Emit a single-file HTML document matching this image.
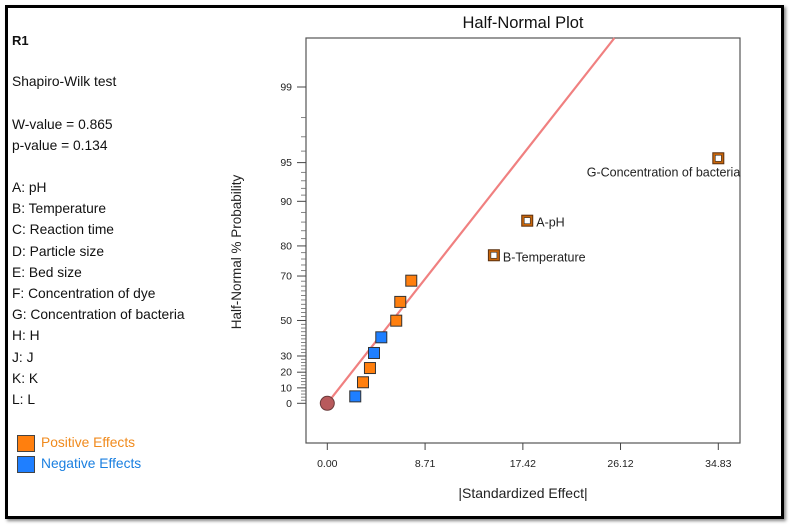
<!DOCTYPE html>
<html><head><meta charset="utf-8"><style>
body{margin:0;background:#fff;width:790px;height:526px;overflow:hidden;font-family:"Liberation Sans",sans-serif}
#frame{position:absolute;left:5px;top:5px;width:773px;height:508px;border:3px solid #000;box-shadow:2px 2px 3px #888}
.t{position:absolute;left:12px;font-size:13.8px;color:#111;white-space:nowrap}
</style></head><body>
<div id="frame"></div>
<div class="t" style="top:33px;font-weight:bold;font-size:13px">R1</div>
<div class="t" style="top:74px">Shapiro-Wilk test</div>
<div class="t" style="top:117px">W-value = 0.865</div>
<div class="t" style="top:138px">p-value = 0.134</div>
<div id="factors"></div>
<div style="position:absolute;left:17px;top:435px;width:16px;height:15px;background:#ff7f0e;border:1px solid #444"></div>
<div class="t" style="left:41px;top:435px;color:#f08a1c">Positive Effects</div>
<div style="position:absolute;left:17px;top:456px;width:16px;height:15px;background:#1f7fff;border:1px solid #444"></div>
<div class="t" style="left:41px;top:456px;color:#1a7fe0">Negative Effects</div>
<svg id="chart" width="790" height="526" style="position:absolute;left:0;top:0"></svg>
<script>
const factorLabels=["A: pH","B: Temperature","C: Reaction time","D: Particle size","E: Bed size","F: Concentration of dye","G: Concentration of bacteria","H: H","J: J","K: K","L: L"];
const effects=[2.49,3.18,3.80,4.16,4.81,6.14,6.50,7.48,14.84,17.81,34.83];
const probs=[4.5,13.6,22.6,31.8,40.9,49.9,59.1,68.2,77.2,86.3,95.4];
const signs=["neg","pos","pos","neg","neg","pos","pos","pos","pos","pos","pos"];
const labels=["","","","","","","","","B-Temperature","A-pH","G-Concentration of bacteria"];
const xTicks=[0,8.71,17.42,26.12,34.83];
const yTicks=[0,10,20,30,50,70,80,90,95,99];
const lineSlope=0.1163;

const fl=document.getElementById('factors');
factorLabels.forEach((s,i)=>{const d=document.createElement('div');d.className='t';d.style.top=(180+i*21.2)+'px';d.textContent=s;

fl.appendChild(d);});

const svg=document.getElementById('chart');const NS='http://www.w3.org/2000/svg';
function el(t,a,p){const e=document.createElementNS(NS,t);for(const k in a)e.setAttribute(k,a[k]);(p||svg).appendChild(e);return e;}
function invN(p){
const a=[-39.6968302866538,220.946098424521,-275.928510446969,138.357751867269,-30.6647980661472,2.50662827745924],b=[-54.4760987982241,161.585836858041,-155.698979859887,66.8013118877197,-13.2806815528857],c=[-0.00778489400243029,-0.322396458041136,-2.40075827716184,-2.54973253934373,4.37466414146497,2.93816398269878],d=[0.00778469570904146,0.32246712907004,2.445134137143,3.75440866190742];
if(p<0.02425){const q=Math.sqrt(-2*Math.log(p));return(((((c[0]*q+c[1])*q+c[2])*q+c[3])*q+c[4])*q+c[5])/((((d[0]*q+d[1])*q+d[2])*q+d[3])*q+1);}
if(p>1-0.02425){const q=Math.sqrt(-2*Math.log(1-p));return-(((((c[0]*q+c[1])*q+c[2])*q+c[3])*q+c[4])*q+c[5])/((((d[0]*q+d[1])*q+d[2])*q+d[3])*q+1);}
const q=p-0.5,r=q*q;return(((((a[0]*r+a[1])*r+a[2])*r+a[3])*r+a[4])*r+a[5])*q/(((((b[0]*r+b[1])*r+b[2])*r+b[3])*r+b[4])*r+1);}
const L=306,R=740,T=38,B=443;
const X=v=>327.3+v*11.226;
const Z=z=>403.3-z*122.8;
const Y=p=>Z(p<=0?0:invN(0.5+p/200));

let t=el('text',{x:523,y:28,'font-size':16.5,'text-anchor':'middle',fill:'#111'});t.textContent='Half-Normal Plot';


let box=el('rect',{x:L,y:T,width:R-L,height:B-T,fill:'none',stroke:'#555','stroke-width':1.2});


for(let p=1;p<99;p++){if(p>90||p%2==0){if(yTicks.includes(p))continue;el('line',{x1:L-5,x2:L,y1:Y(p),y2:Y(p),stroke:'#666','stroke-width':0.8});}}
yTicks.forEach(p=>{el('line',{x1:L-9,x2:L,y1:Y(p),y2:Y(p),stroke:'#444','stroke-width':1});
const tx=el('text',{x:L-14,y:Y(p)+3.5,'font-size':10.5,'text-anchor':'end',fill:'#222'});tx.textContent=p;

});
xTicks.forEach(v=>{el('line',{x1:X(v),x2:X(v),y1:B,y2:B+7,stroke:'#444','stroke-width':1});
const tx=el('text',{x:X(v),y:467,'font-size':10.5,'text-anchor':'middle',fill:'#222'});tx.textContent=v.toFixed(2);

});
t=el('text',{x:523,y:498,'font-size':14,'text-anchor':'middle',fill:'#222'});t.textContent='|Standardized Effect|';


t=el('text',{x:0,y:0,'font-size':13.5,'text-anchor':'middle',fill:'#222',transform:'translate(241,252) rotate(-90)'});t.textContent='Half-Normal % Probability';


const zTop=(403.3-T)/122.8;const xEnd=zTop/lineSlope;
let ln=el('line',{x1:X(0),y1:Z(0),x2:X(xEnd),y2:Z(zTop),stroke:'#f08080','stroke-width':2.2});


let c=el('circle',{cx:X(0),cy:Y(0),r:7,fill:'#b85a5c',stroke:'#6a3a3a','stroke-width':1});


effects.forEach((v,i)=>{const cx=X(v),cy=Y(probs[i]);
const g=el('g',{});


const big=!!labels[i];
el('rect',{x:cx-5.5,y:cy-5.5,width:11,height:11,fill:big?'#c8650a':(signs[i]=='pos'?'#ff7f0e':'#1f7fff'),stroke:big?'#5a3010':'#333','stroke-width':1},g);
if(big){el('rect',{x:cx-3,y:cy-3,width:6,height:6,fill:'#fff',stroke:'#333','stroke-width':0.6},g);
const tx=el('text',{'font-size':12.5,fill:'#222'},g);tx.textContent=labels[i];
if(i==10){tx.setAttribute('x',cx+22);tx.setAttribute('y',cy+18);tx.setAttribute('text-anchor','end');}
else{tx.setAttribute('x',cx+9);tx.setAttribute('y',cy+6);}}
});
</script>
</body></html>
